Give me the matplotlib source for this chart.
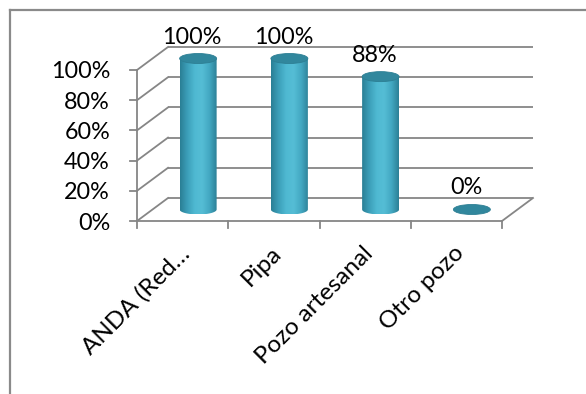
import numpy as np
import matplotlib
matplotlib.use("Agg")
import matplotlib.pyplot as plt
from matplotlib.path import Path
from matplotlib.patches import PathPatch, Ellipse
from matplotlib.colors import LinearSegmentedColormap
from matplotlib.lines import Line2D

plt.rcParams['font.family'] = ['Lato', 'DejaVu Sans']

categories = ["ANDA (Red\u2026", "Pipa", "Pozo artesanal", "Otro pozo"]
values = [1.00, 1.00, 0.88, 0.00]
value_labels = ["100%", "100%", "88%", "0%"]
yticks = [0.0, 0.2, 0.4, 0.6, 0.8, 1.0]
ytick_labels = ["0%", "20%", "40%", "60%", "80%", "100%"]

W, H = 586, 394
fig = plt.figure(figsize=(W / 100, H / 100), dpi=100)
ax = fig.add_axes([0, 0, 1, 1])
ax.set_axis_off()

# pixel layout of the front plane
px_x0, px_x1 = 137, 502      # front floor left/right
px_y0, px_y1 = 221, 70       # 0% and 100% on front axis (from top)
sx = (px_x1 - px_x0) / len(categories)   # px per category
sy = (px_y0 - px_y1) / 1.0               # px per unit value
x_left = -0.5 - px_x0 / sx
x_right = -0.5 + (W - px_x0) / sx
y_bottom = -(H - px_y0) / sy
y_top = px_y0 / sy
ax.set_xlim(x_left, x_right)
ax.set_ylim(y_bottom, y_top)

# depth offset of the back wall, in data units
DX = 31 / sx
DY = 23 / sy

grid_c = "#868686"
lw = 1.3
fs = 16.8
xmin, xmax = -0.5, len(categories) - 0.5

# back wall gridlines and side wall diagonals
for t, lab in zip(yticks, ytick_labels):
    ax.plot([xmin + DX, xmax + DX], [t + DY, t + DY], color=grid_c, lw=lw,
            solid_capstyle='butt')
    ax.plot([xmin, xmin + DX], [t, t + DY], color=grid_c, lw=lw)
    ax.plot([xmin - 7 / sx, xmin], [t, t], color=grid_c, lw=lw)
    ax.text(xmin - 27 / sx, t - 2 / sy, lab,
            ha='right', va='center', fontsize=fs, color='black')

# front axis and floor
ax.plot([xmin, xmin], [0, 1], color=grid_c, lw=lw)
ax.plot([xmin, xmax], [0, 0], color=grid_c, lw=lw)
ax.plot([xmax, xmax + DX], [0, DY], color=grid_c, lw=lw)
for k in range(len(categories) + 1):
    ax.plot([xmin + k, xmin + k], [0, -7 / sy], color=grid_c, lw=lw)

# cylinders
cmap = LinearSegmentedColormap.from_list(
    "cyl", ["#2a7f95", "#3c9fb9", "#4fb9d2", "#55bdd5", "#43a8c2", "#2c8096"])
grad = np.linspace(0, 1, 128).reshape(1, -1)
cw = 37 / sx
ch = 10 / sy
for i, v in enumerate(values):
    xc = i + DX / 2
    yb = DY / 2
    yt = v + DY / 2
    if v > 0:
        th = np.linspace(np.pi, 2 * np.pi, 40)
        arc = np.column_stack([xc + cw / 2 * np.cos(th), yb + ch / 2 * np.sin(th)])
        verts = np.vstack([[[xc - cw / 2, yt]], arc, [[xc + cw / 2, yt]], [[xc - cw / 2, yt]]])
        codes = [Path.MOVETO] + [Path.LINETO] * (len(verts) - 2) + [Path.CLOSEPOLY]
        body = PathPatch(Path(verts, codes), facecolor='none', edgecolor='none')
        ax.add_patch(body)
        im = ax.imshow(grad, cmap=cmap, aspect='auto',
                       extent=[xc - cw / 2, xc + cw / 2, yb - ch / 2, yt],
                       interpolation='bilinear', zorder=3)
        im.set_clip_path(body)
    top = Ellipse((xc, yt), cw, ch, facecolor="#31879d", edgecolor="#2d7f94",
                  lw=0.6, zorder=4)
    ax.add_patch(top)
    ax.annotate(value_labels[i], (xc, yt), xytext=(-6 * 0.72, 15 * 0.72),
                textcoords='offset points', ha='center', va='baseline',
                fontsize=fs, color='black', zorder=5)

# category labels
for i, c in enumerate(categories):
    ax.text(i + 4 / sx, -29 / sy, c, rotation=45, rotation_mode='anchor',
            ha='right', va='center', fontsize=17.5, color='black')

# chart border
fig.add_artist(Line2D([10 / W, 10 / W], [0, 1 - 10 / H], color="#8a8a8a", lw=1.6,
                      transform=fig.transFigure))
fig.add_artist(Line2D([10 / W, 1], [1 - 10 / H, 1 - 10 / H], color="#8a8a8a", lw=1.6,
                      transform=fig.transFigure))

fig.savefig("out.png", dpi=100)
